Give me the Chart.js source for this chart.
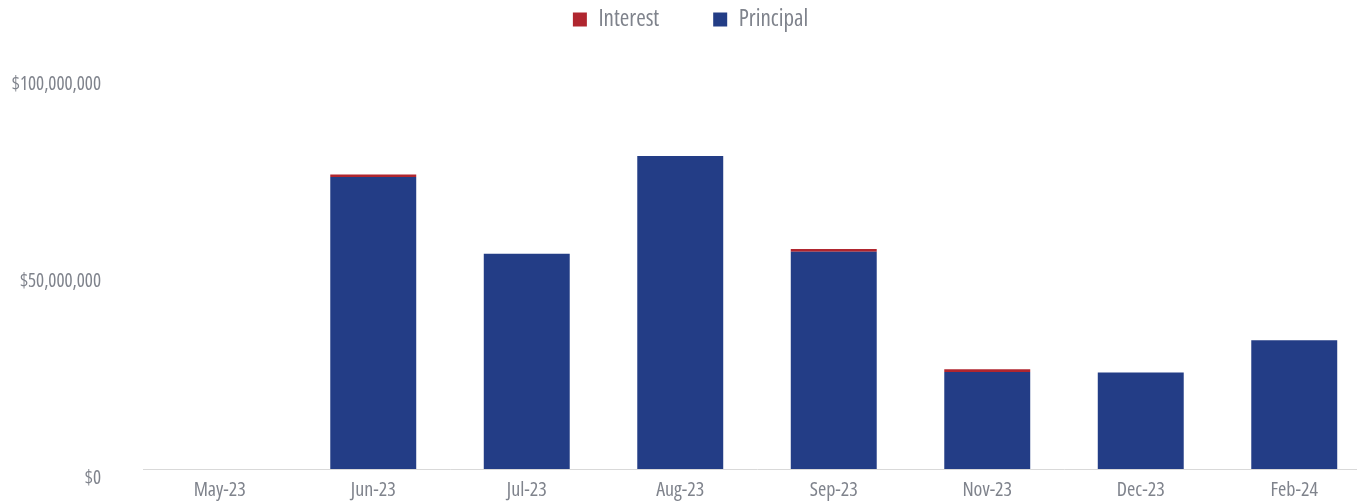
<!DOCTYPE html>
<html>
<head>
<meta charset="utf-8">
<script src="https://cdn.jsdelivr.net/npm/chart.js@4"></script>
<style>
  html, body { margin:0; padding:0; background:#fff; overflow:hidden; }
  #wrap { width:1357px; height:502px; overflow:hidden; position:relative; }
  #chart { position:absolute; left:0; top:0; }
</style>
</head>
<body>
<div id="wrap"><canvas id="chart" width="1371" height="502"></canvas></div>
<script>
// values, in dollars
const months = ['May-23','Jun-23','Jul-23','Aug-23','Sep-23','Nov-23','Dec-23','Feb-24'];
const principal = [0, 74100000, 54600000, 79400000, 55100000, 24600000, 24500000, 32700000];
const interest  = [0,   600000,        0,        0,   700000,   700000,        0,        0];
const yTicks = [0, 50000000, 100000000];

const FONT = '"Open Sans", "DejaVu Sans", sans-serif';
const GREY = '#7f838c';

// 'condensed' goes in the weight slot so it lands in the canvas font shorthand
const cond = size => ({ family: FONT, size, weight: 'condensed' });
const fmt = v => '$' + v.toLocaleString('en-US');

new Chart(document.getElementById('chart'), {
  type: 'bar',
  data: {
    labels: months,
    datasets: [
      { label: 'Principal', data: principal, backgroundColor: '#233d86', stack: 's' },
      { label: 'Interest', data: interest, backgroundColor: '#b0262f', stack: 's' }
    ]
  },
  options: {
    responsive: false,
    animation: false,
    // legend padding is wide for the gap between items, so pull it up
    layout: { padding: { left: 10, top: -46, right: 0, bottom: 0 } },
    datasets: { bar: { categoryPercentage: 1, barPercentage: 0.56 } },
    plugins: {
      tooltip: { enabled: false },
      legend: {
        reverse: true,
        labels: {
          boxWidth: 14, boxHeight: 14, padding: 54,
          color: GREY,
          font: cond(23)
        }
      }
    },
    scales: {
      x: {
        stacked: true,
        grid: { display: false, drawTicks: false },
        border: { display: true, color: '#d9d9d9', width: 1 },
        ticks: { color: GREY, font: cond(20), padding: 9, maxRotation: 0 },
        afterFit: s => { s.height = 33; }
      },
      y: {
        stacked: true,
        min: 0, max: 108600000,
        grid: { display: false, drawTicks: false },
        border: { display: false },
        afterBuildTicks: s => { s.ticks = yTicks.map(v => ({ value: v })); },
        afterFit: s => { s.width = 133; s.paddingTop = 0; s.paddingBottom = 0; },
        ticks: {
          color: GREY, font: cond(19),
          padding: 42, labelOffset: 10,
          callback: v => fmt(v)
        }
      }
    }
  }
});
</script>
</body>
</html>
